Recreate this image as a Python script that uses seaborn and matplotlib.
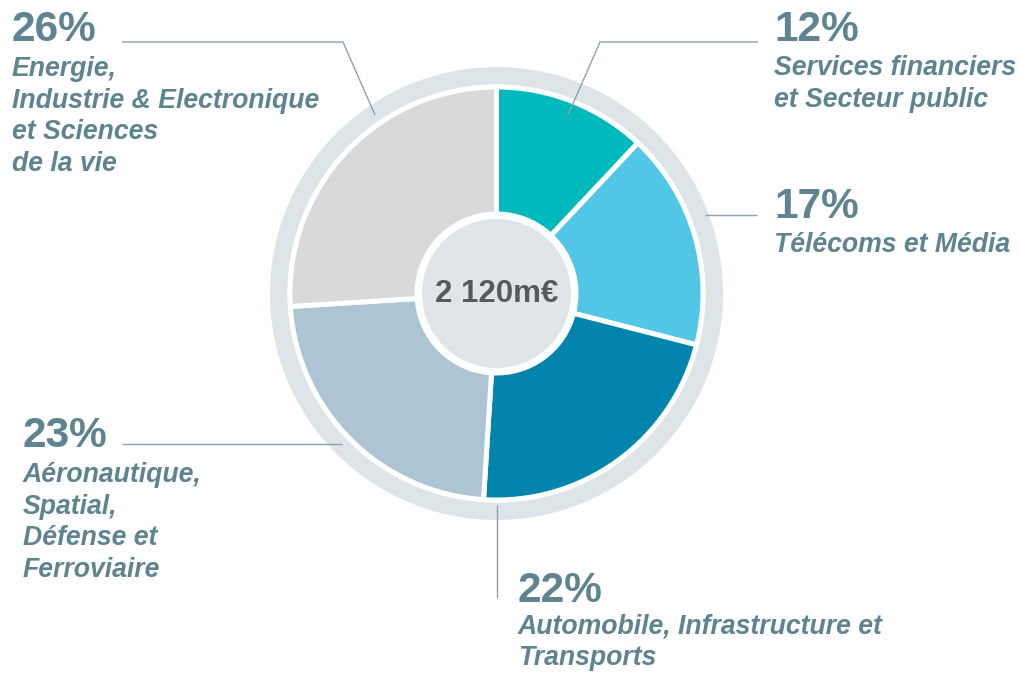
import matplotlib
matplotlib.use("Agg")
import matplotlib.pyplot as plt
from matplotlib.patches import Circle, Wedge
import seaborn as sns

# ---- data ----
sectors = [
    "Services financiers\net Secteur public",
    "Télécoms et Média",
    "Automobile, Infrastructure et\nTransports",
    "Aéronautique,\nSpatial,\nDéfense et\nFerroviaire",
    "Energie,\nIndustrie & Electronique\net Sciences\nde la vie",
]
shares = [12, 17, 22, 23, 26]
colors = ["#00B9BD", "#52C6E6", "#0384AD", "#ADC4D4", "#D9D9D9"]
total_label = "2 120m€"

sns.set_theme(style="white")
plt.rcParams["font.family"] = ["Liberation Sans", "DejaVu Sans"]

W, H = 1019, 673
fig = plt.figure(figsize=(W / 100, H / 100), dpi=100)
ax = fig.add_axes([0, 0, 1, 1])


def Y(y):
    return H - y


cx, cy = 496.5, Y(293.5)
TXT = "#5E8391"
LINE = "#8CA3AE"

# outer ring
ax.add_patch(Wedge((cx, cy), 226.5, 0, 360, width=17.5, facecolor="#DEE5E9",
                   edgecolor="none", zorder=1))

# donut
ax.pie(shares, colors=colors, startangle=90, counterclock=False,
       radius=206.5, center=(cx, cy),
       wedgeprops=dict(width=206.5 - 79.5, edgecolor="white", linewidth=3.6))
ax.set_xlim(0, W)
ax.set_ylim(0, H)
ax.set_aspect("equal")
ax.axis("off")

# centre disc
ax.add_patch(Circle((cx, cy), 77, facecolor="#DFE5E9", edgecolor="white",
                    linewidth=3.6, zorder=5))
ax.text(cx, cy, total_label, ha="center", va="center", fontsize=22.5,
        fontweight="bold", color="#595959", zorder=6)

# labels: (x, pct baseline, first text baseline)
label_pos = [
    (774, 41, 75),
    (774, 218, 252),
    (518, 602, 633),
    (23, 447, 482),
    (12, 41, 76),
]
for (x, pb, tb), s, lab in zip(label_pos, shares, sectors):
    ax.text(x, Y(pb), f"{s}%", ha="left", va="baseline", fontsize=30.5,
            fontweight="bold", color=TXT)
    for i, line in enumerate(lab.split("\n")):
        ax.text(x, Y(tb + i * 31.7), line, ha="left", va="baseline",
                fontsize=19.2, fontweight="bold", fontstyle="italic", color=TXT)

# leader lines
leaders = [
    [(758, 42), (600, 42), (568, 115)],
    [(757, 215), (705, 215)],
    [(497, 505), (497, 598)],
    [(122, 444), (342, 444)],
    [(122, 42), (343, 42), (375, 115)],
]
for pts in leaders:
    xs = [p[0] for p in pts]
    ys = [Y(p[1]) for p in pts]
    ax.plot(xs, ys, color=LINE, linewidth=1.0, zorder=7, solid_capstyle="butt")

fig.savefig("out.png", dpi=100, facecolor="white")
